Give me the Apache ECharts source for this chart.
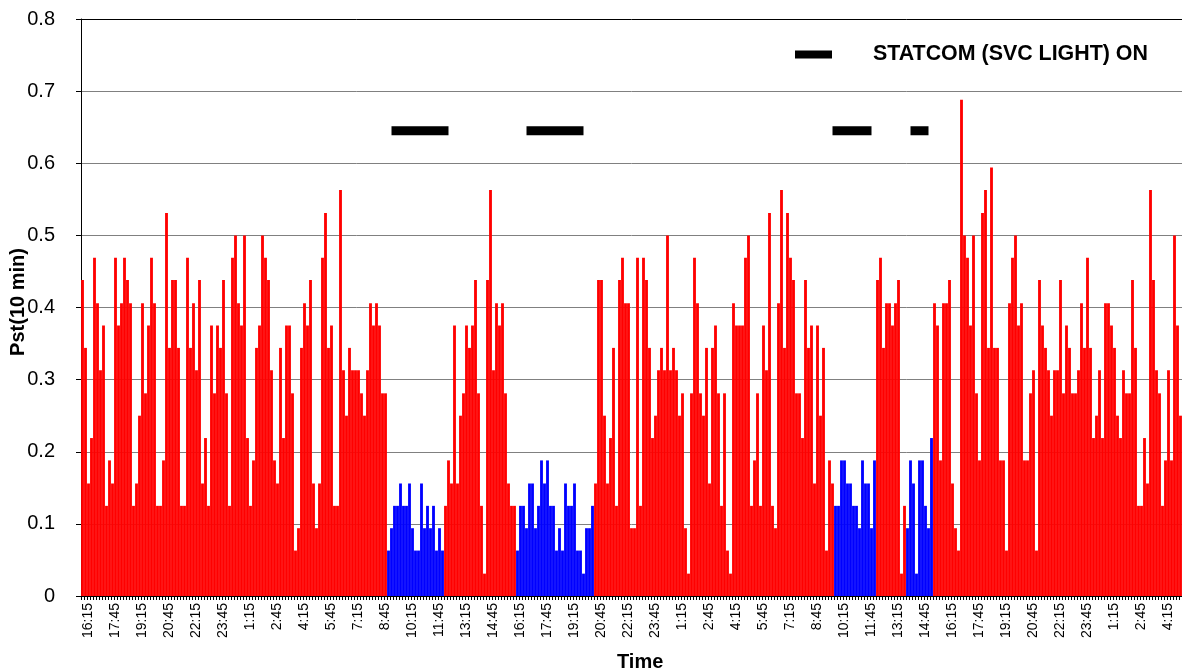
<!DOCTYPE html>
<html><head><meta charset="utf-8">
<script src="https://cdn.jsdelivr.net/npm/echarts@6/dist/echarts.min.js"></script>
<style>html,body{margin:0;padding:0;background:#fff}#c{width:1182px;height:672px}</style>
</head><body><div id="c"></div>
<script>
// first category starts at 15:55, one bar per 10 minutes
const startMinutes = 15 * 60 + 55;
const stepMinutes = 10;

// Pst(10 min) values, read bar by bar
const pstA = [
0.438,0.344,0.156,0.219,0.469,0.406,0.313,0.375,0.125,0.188,
0.156,0.469,0.375,0.406,0.469,0.438,0.406,0.125,0.156,0.25,
0.406,0.281,0.375,0.469,0.406,0.125,0.125,0.188,0.531,0.344,
0.438,0.438,0.344,
0.125,0.125,0.469,0.344,0.406,0.313,0.438,0.156,0.219,0.125,
0.375,0.281,0.375,0.344,0.438,0.281,0.125,0.469,0.5,0.406,
0.375,0.5,0.219,0.125,0.188,0.344,0.375,0.5,0.469,0.438,
0.313,0.188,0.156,
0.344,0.219,0.375,0.375,0.281,0.063,0.094,0.344,0.406,0.375,
0.438,0.156,0.094,0.156,0.469,0.531,0.344,0.375,0.125,0.125,
0.563,0.313,0.25,0.344,0.313,0.313,0.313,0.281,0.25,0.313,
0.406,0.375,0.406,0.375,0.281,0.281
];
const pstB = [
0.063,0.094,0.125,0.125,0.156,0.125,0.125,0.156,0.094,0.063,
0.063,0.156,0.094,0.125,0.094,0.125,0.063,0.094,0.063,
0.125,0.188,0.156,0.375,0.156,0.25,0.281,0.375,0.344,0.375,
0.438,0.281,0.125,0.031,0.438,0.563,0.313,0.406,0.375,0.406,
0.281,0.156,0.125,0.125,
0.063,0.125,0.125,0.094,0.156,0.156,0.094,0.125,0.188,0.156,
0.188,0.125,0.125,0.063,0.094,0.063,0.156,0.125,0.125,0.156,
0.063,0.063,0.031,0.094,0.094,0.125,
0.156,0.438,0.438,0.25,0.156,0.219,0.344,0.125,0.438,0.469,
0.406,0.406,0.094,0.094,0.469,0.125,0.469,0.438,0.344,0.219,
0.25,0.313,0.344,0.313,0.5,0.313,0.344,0.313,0.25,0.281
];
const pstC = [
0.094,0.031,0.281,0.469,0.406,0.281,0.25,0.344,0.156,0.344,
0.375,0.281,0.125,0.281,0.063,0.031,0.406,0.375,0.375,0.375,
0.469,0.5,0.125,0.188,0.281,0.125,0.375,0.313,0.531,0.125,
0.094,0.406,0.563,0.344,0.531,0.469,0.438,0.281,0.281,0.219,
0.438,0.344,0.375,0.156,0.375,0.25,0.344,0.063,0.188,0.156,
0.125,0.125,0.188,0.188,0.156,0.156,0.125,0.125,0.094,0.188,
0.156,0.156,0.094,0.188,
0.438,0.469,0.344,0.406,0.406,0.375,0.406,0.438,0.031,0.125,
0.094,0.188,0.156,0.031,0.188,0.188,0.125,0.094,0.219
];
const pstD = [
0.406,0.375,0.188,0.406,0.406,0.438,0.156,0.094,0.063,0.688,
0.5,0.469,0.375,0.5,0.281,0.188,0.531,0.563,0.344,0.594,
0.344,0.344,0.188,0.188,0.063,0.406,0.469,0.5,0.375,0.406,
0.188,0.188,0.281,0.313,0.063,0.438,0.375,0.344,0.313,0.25,
0.313,0.313,0.438,0.281,0.375,0.344,0.281,0.281,0.313,0.406,
0.344,0.469,0.344,0.219,0.25,0.313,0.219,0.406,0.406,0.375,
0.344,0.25,0.219,0.313,0.281,0.281,0.438,0.344,0.125,0.125,
0.219,0.156,0.563,0.438,0.313,0.281,0.125,0.188,0.313,0.188,
0.5,0.375,0.25
];

// bar index ranges drawn in blue
const blueRanges = [[102,120],[145,170],[251,264],[275,283]];
// STATCOM (SVC LIGHT) ON periods, as bar index ranges, drawn at this level
const statcomOn = [[103,122],[148,167],[250,263],[276,282]];
const statcomLevel = 0.645;
const yTickLabels = ['0','0.1','0.2','0.3','0.4','0.5','0.6','0.7','0.8'];

const pst = pstA.concat(pstB, pstC, pstD);
const categories = pst.map((_, i) => {
  const m = (startMinutes + i * stepMinutes) % 1440;
  return Math.floor(m / 60) + ':' + String(m % 60).padStart(2, '0');
});
const inRanges = (i, r) => r.some(([a, b]) => i >= a && i <= b);
const redData = pst.map((v, i) => inRanges(i, blueRanges) ? '-' : v);
const blueData = pst.map((v, i) => inRanges(i, blueRanges) ? v : '-');
const statcomData = pst.map((_, i) => inRanges(i, statcomOn) ? statcomLevel : null);

const FONT = 'Liberation Sans, Arial, sans-serif';
const chart = echarts.init(document.getElementById('c'), null, {renderer: 'canvas'});
chart.setOption({
  animation: false,
  backgroundColor: '#fff',
  grid: {left: 81, right: 0, top: 19, bottom: 76},
  legend: {
    data: ['STATCOM (SVC LIGHT) ON'],
    left: 795, top: 44, padding: 0,
    icon: 'rect', itemWidth: 37, itemHeight: 8,
    textStyle: {fontFamily: FONT, fontSize: 21.4, fontWeight: 'bold', color: '#000', padding: [0,0,0,36]}
  },
  xAxis: {
    type: 'category', data: categories, boundaryGap: true,
    axisLine: {lineStyle: {color: '#000', width: 1}},
    axisTick: {show: true, interval: 0, length: 4, lineStyle: {color: '#000'}},
    axisLabel: {
      interval: (i) => i >= 2 && (i - 2) % 9 === 0,
      rotate: 90, margin: 7, color: '#000', fontFamily: FONT, fontSize: 14
    },
    splitLine: {show: false}
  },
  yAxis: {
    type: 'value', min: 0, max: 0.8, interval: 0.1,
    axisLine: {show: true, lineStyle: {color: '#000'}},
    axisTick: {show: true, length: 5, lineStyle: {color: '#000'}},
    axisLabel: {
      color: '#000', fontFamily: FONT, fontSize: 20, margin: 26,
      formatter: (v) => yTickLabels[Math.round(v * 10)]
    },
    splitLine: {show: true, lineStyle: {color: ['#808080','#808080','#808080','#808080','#808080','#808080','#808080','#808080','#000'], width: 1}}
  },
  graphic: [
    {type: 'text', left: 617, top: 652, style: {text: 'Time', font: 'bold 20px ' + FONT, fill: '#000'}},
    {type: 'text', x: 18, y: 302, rotation: Math.PI / 2,
     style: {text: 'Pst(10 min)', font: 'bold 20px ' + FONT, fill: '#000', align: 'center', verticalAlign: 'middle'}}
  ],
  series: [
    {name: 'red', type: 'bar', data: redData, barCategoryGap: '5%', barGap: '-100%',
     itemStyle: {color: '#FF0000'}, silent: true},
    {name: 'blue', type: 'bar', data: blueData, barCategoryGap: '5%', barGap: '-100%',
     itemStyle: {color: '#0000FF'}, silent: true},
    {name: 'STATCOM (SVC LIGHT) ON', type: 'line', data: statcomData, showSymbol: false,
     connectNulls: false, itemStyle: {color: '#000'},
     lineStyle: {color: '#000', width: 9, cap: 'butt'}, z: 5, silent: true}
  ]
});
</script></body></html>
